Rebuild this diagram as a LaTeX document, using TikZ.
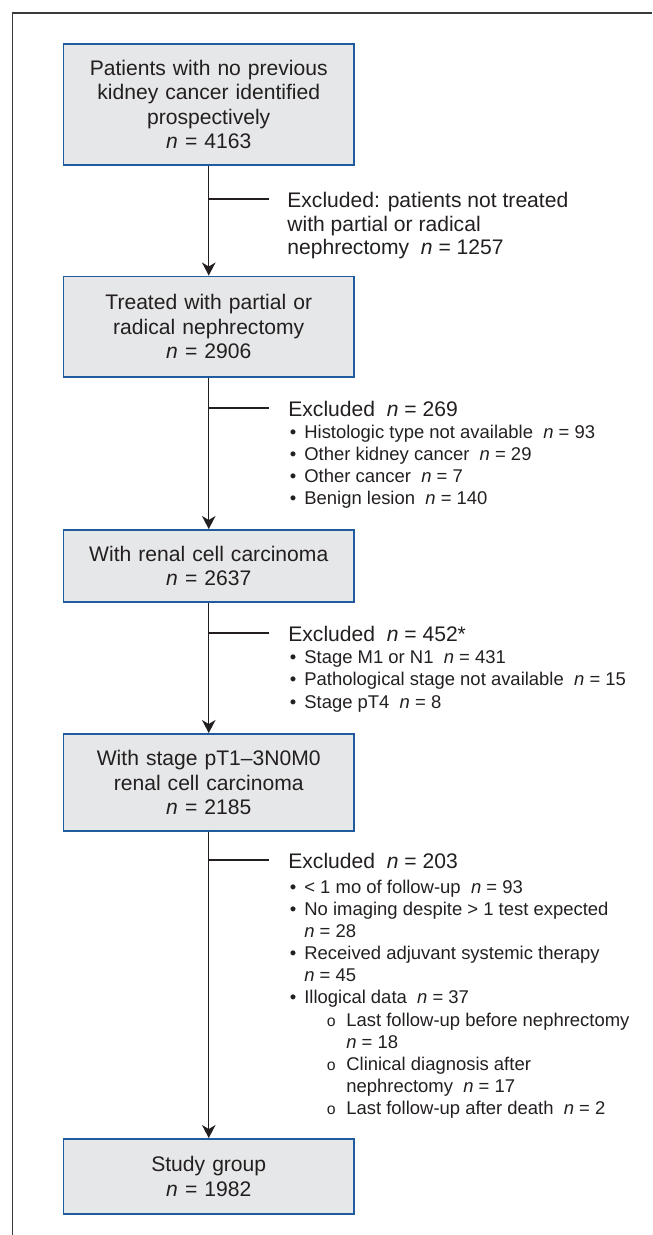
\documentclass[tikz,border=0pt]{standalone}
\usepackage{fontspec}
\setmainfont{Liberation Sans}
\usetikzlibrary{arrows.meta,positioning}
\definecolor{StageBlue}{HTML}{1F5C9E}
\definecolor{StageFill}{HTML}{E6E7E8}
\definecolor{FlowInk}{HTML}{231F20}
\definecolor{FrameGray}{HTML}{3A3A3A}
\newcommand{\ncount}[1]{\textit{n} = #1}
\newcommand{\bul}{\makebox[0.29cm][l]{\textbullet}}
\newcommand{\bulcont}{\hspace*{0.29cm}}
\newcommand{\subbul}{\hspace*{0.74cm}\makebox[0.39cm][l]{\fontsize{9}{9}\selectfont o}}
\newcommand{\subcont}{\hspace*{1.13cm}}

\begin{document}
\begin{tikzpicture}[
  x=1cm,y=1cm,
  every node/.style={text=FlowInk},
  stage/.style={draw=StageBlue,fill=StageFill,line width=1.1pt,
    minimum width=5.81cm,text width=5.4cm,align=center,
    font=\fontsize{12}{14}\selectfont},
  flow/.style={-{Stealth[length=0.26cm,width=0.27cm,inset=0.08cm]},
    draw=FlowInk,line width=0.75pt},
  branch/.style={draw=FlowInk,line width=0.85pt},
  exclhead/.style={anchor=north west,inner sep=0pt,align=left,
    font=\fontsize{12}{13.6}\selectfont},
  excllist/.style={anchor=north west,inner sep=0pt,align=left,
    font=\fontsize{10.5}{12.6}\selectfont}
]
\useasboundingbox (0,0) rectangle (13.04,24.7);
% Figure frame, open on the right and at the bottom.
\draw[FrameGray,line width=0.8pt] (0.25,0)--(0.25,24.44)--(13.04,24.44);
% Main flow of patients.
\node[stage,minimum height=2.42cm] (b1) at (4.175,22.61)
  {Patients with no previous\\kidney cancer identified\\prospectively\\\ncount{4163}};
\node[stage,minimum height=2.01cm] (b2) at (4.175,18.165)
  {Treated with partial or\\radical nephrectomy\\\ncount{2906}};
\node[stage,minimum height=1.44cm] (b3) at (4.175,13.38)
  {With renal cell carcinoma\\\ncount{2637}};
\node[stage,minimum height=1.94cm] (b4) at (4.175,9.05)
  {With stage pT1--3N0M0\\renal cell carcinoma\\\ncount{2185}};
\node[stage,minimum height=1.5cm] (b5) at (4.175,1.17)
  {Study group\\\ncount{1982}};
\draw[flow] (b1.south)--(b2.north);
\draw[flow] (b2.south)--(b3.north);
\draw[flow] (b3.south)--(b4.north);
\draw[flow] (b4.south)--(b5.north);
% Exclusions branching off each step.
\coordinate (j1) at (4.175,20.72);
\coordinate (j2) at (4.175,16.54);
\coordinate (j3) at (4.175,12.04);
\coordinate (j4) at (4.175,7.5);
\node[exclhead] (ex1) at (5.74,20.87)
  {Excluded: patients not treated\\with partial or radical\\nephrectomy\ \ \ncount{1257}};
\node[exclhead] (ex2) at (5.76,16.69) {Excluded\ \ \ncount{269}};
\node[excllist] (ex2list) at (5.79,16.21)
  {\bul Histologic type not available\ \ \ncount{93}\\
   \bul Other kidney cancer\ \ \ncount{29}\\
   \bul Other cancer\ \ \ncount{7}\\
   \bul Benign lesion\ \ \ncount{140}};
\node[exclhead] (ex3) at (5.76,12.19) {Excluded\ \ \ncount{452*}};
\node[excllist] (ex3list) at (5.79,11.69)
  {\bul Stage M1 or N1\ \ \ncount{431}\\
   \bul Pathological stage not available\ \ \ncount{15}\\
   \bul Stage pT4\ \ \ncount{8}};
\node[exclhead] (ex4) at (5.76,7.65) {Excluded\ \ \ncount{203}};
\node[excllist] (ex4list) at (5.79,7.11)
  {\bul < 1 mo of follow-up\ \ \ncount{93}\\
   \bul No imaging despite > 1 test expected\\
   \bulcont\ncount{28}\\
   \bul Received adjuvant systemic therapy\\
   \bulcont\ncount{45}\\
   \bul Illogical data\ \ \ncount{37}\\
   \subbul Last follow-up before nephrectomy\\
   \subcont\ncount{18}\\
   \subbul Clinical diagnosis after\\
   \subcont nephrectomy\ \ \ncount{17}\\
   \subbul Last follow-up after death\ \ \ncount{2}};
\draw[branch,shorten >=0.36cm] (j1)--(j1 -| ex1.west);
\draw[branch,shorten >=0.38cm] (j2)--(j2 -| ex2.west);
\draw[branch,shorten >=0.38cm] (j3)--(j3 -| ex3.west);
\draw[branch,shorten >=0.38cm] (j4)--(j4 -| ex4.west);
\end{tikzpicture}
\end{document}
